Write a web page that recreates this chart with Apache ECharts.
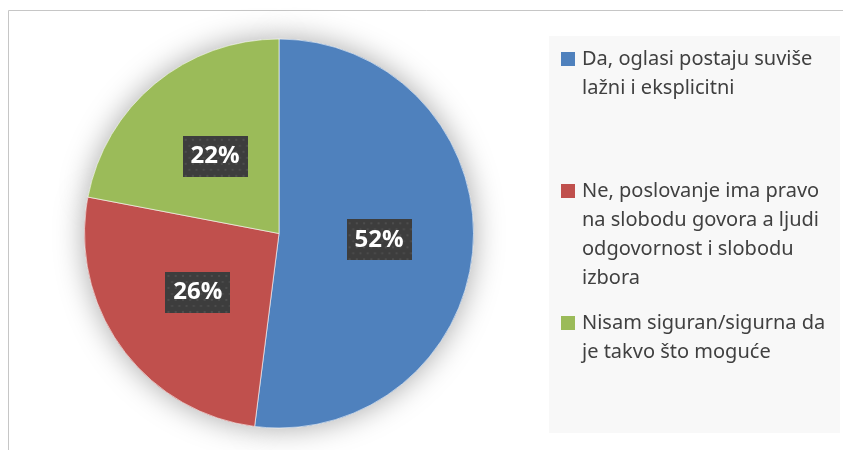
<!DOCTYPE html>
<html>
<head>
<meta charset="utf-8">
<script src="https://cdn.jsdelivr.net/npm/echarts@6/dist/echarts.min.js"></script>
<style>
  html, body { margin: 0; padding: 0; background: #fff; }
  #main { width: 843px; height: 450px; }
</style>
</head>
<body>
<div id="main"></div>
<script>
var categories = [
    'Da, oglasi postaju suviše lažni i eksplicitni',
    'Ne, poslovanje ima pravo na slobodu govora a ljudi odgovornost i slobodu izbora',
    'Nisam siguran/sigurna da je takvo što moguće'
];
var legendLines = [
    ['Da, oglasi postaju suviše', 'lažni i eksplicitni'],
    ['Ne, poslovanje ima pravo', 'na slobodu govora a ljudi', 'odgovornost i slobodu', 'izbora'],
    ['Nisam siguran/sigurna da', 'je takvo što moguće']
];
var values = [52, 26, 22];
var colors = ['#4f81bd', '#c0504d', '#9bbb59'];

// dotted dark box behind the labels
function makeLabelBg()
{
    var c = document.createElement('canvas');
    c.width = 63;
    c.height = 41;
    var ctx = c.getContext('2d');
    ctx.fillStyle = '#3d3d3d';
    ctx.fillRect(0, 0, c.width, c.height);
    ctx.fillStyle = '#4d4d4d';
    var row = 0;
    for (var y = 3; y < c.height; y += 6) {
        for (var x = (row % 2) * 3.5 + 2; x < c.width; x += 7) {
            ctx.fillRect(x, y, 2, 2);
        }
        row++;
    }
    return c;
}

var lineH = 29;
var iconTops = [52, 184, 316];

var pieData = categories.map(function (name, i) {
    return { name: name, value: values[i], itemStyle: { color: colors[i] } };
});

// the text block is centred on the marker, so empty lines in front
// push the first real line level with the marker
var legends = categories.map(function (name, i) {
    var n = legendLines[i].length;
    var textTop = 7 - (2 * n - 1) * lineH / 2;
    var blank = new Array(n).join('\n');
    return {
        data: [name],
        orient: 'vertical',
        left: 561,
        top: iconTops[i] + textTop,
        padding: 0,
        icon: 'rect',
        itemWidth: 14,
        itemHeight: 14,
        selectedMode: false,
        formatter: function () { return blank + legendLines[i].join('\n'); },
        textStyle: {
            fontFamily: 'Noto Sans',
            fontSize: 20,
            color: '#404040',
            lineHeight: lineH,
            padding: [0, 0, 0, 2],
            backgroundColor: 'rgba(0,0,0,0)'
        }
    };
});

var myChart = echarts.init(document.getElementById('main'), null, { renderer: 'canvas' });

var option = {
    animation: false,
    graphic: [
        {
            type: 'rect',
            shape: { x: 8.5, y: 10.5, width: 900, height: 500 },
            style: { fill: '#fff', stroke: '#c6c6c6', lineWidth: 1 },
            z: -10,
            silent: true
        },
        {
            type: 'rect',
            shape: { x: 549, y: 36, width: 291, height: 397 },
            style: { fill: '#f8f8f8' },
            z: -9,
            silent: true
        }
    ],
    legend: legends,
    series: [
        {
            // soft shadow under the whole pie
            type: 'pie',
            center: [279, 233.5],
            radius: 194.5,
            startAngle: 90,
            silent: true,
            z: 1,
            label: { show: false },
            labelLine: { show: false },
            itemStyle: {
                shadowBlur: 30,
                shadowColor: 'rgba(0,0,0,0.35)'
            },
            data: pieData
        },
        {
            type: 'pie',
            center: [279, 233.5],
            radius: 194.5,
            startAngle: 90,
            silent: true,
            z: 2,
            itemStyle: {
                borderColor: 'rgba(255,255,255,0.6)',
                borderWidth: 1
            },
            label: {
                show: true,
                position: 'inside',
                formatter: '{c}%',
                fontFamily: 'Open Sans',
                fontWeight: 'bold',
                fontSize: 24,
                lineHeight: 24,
                color: '#fff',
                padding: [9, 8, 8, 8],
                backgroundColor: { image: makeLabelBg() },
                shadowBlur: 6,
                shadowOffsetX: 3,
                shadowOffsetY: 4,
                shadowColor: 'rgba(0,0,0,0.45)'
            },
            labelLine: { show: false },
            data: pieData
        }
    ]
};

myChart.setOption(option);
window.addEventListener('resize', myChart.resize);
</script>
</body>
</html>
